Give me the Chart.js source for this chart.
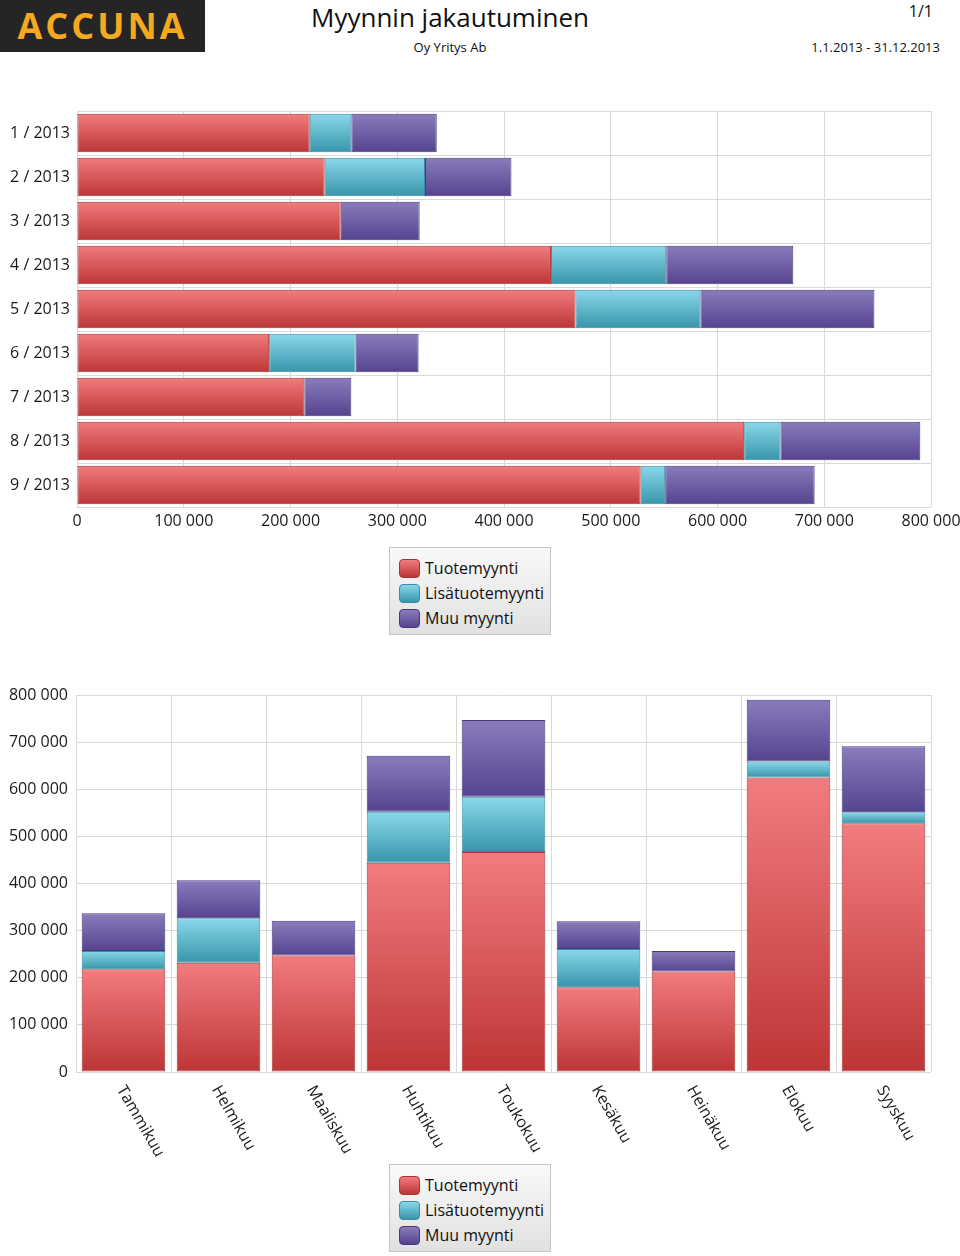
<!DOCTYPE html>
<html>
<head>
<meta charset="utf-8">
<script src="https://cdn.jsdelivr.net/npm/chart.js@4.4.0/dist/chart.umd.min.js"></script>
<style>
body { margin: 0; width: 960px; height: 1256px; position: relative; background: #fff; font-family: "Open Sans", sans-serif; overflow: hidden; color: #111; }
.logo { position: absolute; left: 0; top: 0; width: 205px; height: 52px; background: #252525; color: #f6a821; font: bold 36px "Open Sans", sans-serif; letter-spacing: 3px; text-align: center; line-height: 52px; }
.title { position: absolute; left: 250px; width: 400px; top: -1px; text-align: center; font-size: 26px; }
.company { position: absolute; left: 350px; width: 200px; top: 38px; text-align: center; font-size: 13px; }
.page { position: absolute; right: 27px; top: 0; font-size: 16px; }
.period { position: absolute; right: 20px; top: 38px; font-size: 13px; }
canvas { position: absolute; left: 0; }
.legend { position: absolute; left: 389px; width: 160px; height: 86px; border: 1px solid #c4c4c4; background: linear-gradient(#f9f9f9, #e1e1e1); }
.legend div { position: absolute; left: 9px; height: 22px; line-height: 22px; font-size: 16px; white-space: nowrap; }
.legend span { display: inline-block; width: 21px; height: 19px; border-radius: 4px; vertical-align: -4px; margin-right: 5px; box-sizing: border-box; }
</style>
</head>
<body>
<div class="logo">ACCUNA</div>
<div class="title">Myynnin jakautuminen</div>
<div class="company">Oy Yritys Ab</div>
<div class="page">1/1</div>
<div class="period">1.1.2013 - 31.12.2013</div>

<canvas id="barChart" width="960" height="440" style="top:100px"></canvas>
<div class="legend" id="legend1" style="top:547px"></div>
<canvas id="columnChart" width="960" height="480" style="top:680px"></canvas>
<div class="legend" id="legend2" style="top:1164px"></div>

<script>
const periods = ['1 / 2013', '2 / 2013', '3 / 2013', '4 / 2013', '5 / 2013', '6 / 2013', '7 / 2013', '8 / 2013', '9 / 2013'];
const monthNames = ['Tammikuu', 'Helmikuu', 'Maaliskuu', 'Huhtikuu', 'Toukokuu', 'Kesäkuu', 'Heinäkuu', 'Elokuu', 'Syyskuu'];
const seriesNames = ['Tuotemyynti', 'Lisätuotemyynti', 'Muu myynti'];

const tuotemyynti = [218000, 232000, 247000, 444000, 467000, 180000, 213000, 625000, 528000];
const lisatuotemyynti = [39000, 94000, null, 108000, 117000, 81000, null, 34000, 23000];
const muuMyynti = [80000, 81000, 74000, 119000, 163000, 59000, 44000, 131000, 140000];

const AXIS_MAX = 800000;
const AXIS_STEP = 100000;

// gradient top / bottom and outline for each series
const topColors = ['#f17c7f', '#8ad8ea', '#8a7cbc'];
const bottomColors = ['#bd3535', '#3895aa', '#56438f'];
const lineColors = ['#a93434', '#3a8ca2', '#463a7c'];

const tickColor = '#1a1a1a';
const gridColor = '#d9d9d9';
const tickFont = { family: '"Open Sans", sans-serif', size: 16 };

function fmt(v) {
    return String(v).replace(/\B(?=(\d{3})+(?!\d))/g, ' ');
}

function makeDatasets() {
    const values = [tuotemyynti, lisatuotemyynti, muuMyynti];
    return values.map((data, i) => ({
        label: seriesNames[i],
        data: data.slice(),
        backgroundColor: () => bottomColors[i],   // scriptable so each bar gets its own options
        borderColor: lineColors[i],
        borderWidth: 1,
        borderSkipped: false,
        barPercentage: 0.88,
        categoryPercentage: 1.0
    }));
}

// replace flat fills with a top-to-bottom gradient per bar segment
const gradientPlugin = {
    id: 'gradients',
    beforeDatasetsDraw(chart) {
        const ctx = chart.ctx;
        const horizontal = chart.options.indexAxis === 'y';
        chart.data.datasets.forEach((ds, d) => {
            chart.getDatasetMeta(d).data.forEach(bar => {
                let top, bottom;
                if (horizontal) {
                    top = bar.y - bar.height / 2;
                    bottom = bar.y + bar.height / 2;
                } else {
                    top = Math.min(bar.y, bar.base);
                    bottom = Math.max(bar.y, bar.base);
                }
                if (!isFinite(top) || !isFinite(bottom) || bottom - top < 1) return;
                const g = ctx.createLinearGradient(0, top, 0, bottom);
                g.addColorStop(0, topColors[d]);
                g.addColorStop(1, bottomColors[d]);
                bar.options.backgroundColor = g;
            });
        });
    }
};

// month names slanted downwards to the right
const slantLabels = {
    id: 'slantLabels',
    afterDraw(chart) {
        const xs = chart.scales.x;
        const ctx = chart.ctx;
        ctx.save();
        ctx.font = '16px "Open Sans", sans-serif';
        ctx.fillStyle = tickColor;
        ctx.textAlign = 'left';
        ctx.textBaseline = 'middle';
        xs.ticks.forEach((t, i) => {
            ctx.save();
            ctx.translate(xs.getPixelForTick(i) - 3, chart.chartArea.bottom + 15);
            ctx.rotate(Math.PI / 3);
            ctx.fillText(chart.data.labels[i], 0, 0);
            ctx.restore();
        });
        ctx.restore();
    }
};

const valueScale = {
    stacked: true,
    min: 0,
    max: AXIS_MAX,
    ticks: { stepSize: AXIS_STEP, callback: fmt, color: tickColor, font: tickFont, maxRotation: 0 },
    grid: { color: gridColor, drawTicks: false },
    border: { display: false }
};

new Chart(document.getElementById('barChart').getContext('2d'), {
    type: 'bar',
    data: { labels: periods, datasets: makeDatasets() },
    options: {
        indexAxis: 'y',
        responsive: false,
        animation: false,
        layout: { padding: { top: 11, right: 29, left: 0, bottom: 0 } },
        plugins: { legend: { display: false }, tooltip: { enabled: false } },
        scales: {
            x: Object.assign({}, valueScale, {
                ticks: Object.assign({}, valueScale.ticks, { padding: 5 }),
                afterFit: s => { s.height = 33; s.paddingLeft = 0; s.paddingRight = 0; }
            }),
            y: {
                stacked: true,
                ticks: { color: tickColor, font: tickFont, padding: 7 },
                grid: { color: gridColor, drawTicks: false, offset: true },
                border: { display: false },
                afterFit: s => { s.width = 77; s.paddingTop = 0; s.paddingBottom = 0; }
            }
        }
    },
    plugins: [gradientPlugin]
});

new Chart(document.getElementById('columnChart').getContext('2d'), {
    type: 'bar',
    data: { labels: monthNames, datasets: makeDatasets() },
    options: {
        responsive: false,
        animation: false,
        layout: { padding: { top: 15, right: 29, left: 0, bottom: 0 } },
        plugins: { legend: { display: false }, tooltip: { enabled: false } },
        scales: {
            x: {
                stacked: true,
                ticks: { display: false },
                grid: { color: gridColor, drawTicks: false, offset: true },
                border: { display: false },
                afterFit: s => { s.height = 88; s.paddingLeft = 0; s.paddingRight = 0; }
            },
            y: Object.assign({}, valueScale, {
                ticks: Object.assign({}, valueScale.ticks, { padding: 8 }),
                afterFit: s => { s.width = 76; s.paddingTop = 0; s.paddingBottom = 0; }
            })
        }
    },
    plugins: [gradientPlugin, slantLabels]
});

// legends built from the series names
['legend1', 'legend2'].forEach(id => {
    const box = document.getElementById(id);
    seriesNames.forEach((name, i) => {
        const row = document.createElement('div');
        row.style.top = (9 + i * 25) + 'px';
        const sw = document.createElement('span');
        sw.style.background = 'linear-gradient(' + topColors[i] + ',' + bottomColors[i] + ')';
        sw.style.border = '1px solid ' + lineColors[i];
        row.appendChild(sw);
        row.appendChild(document.createTextNode(name));
        box.appendChild(row);
    });
});
</script>
</body>
</html>
